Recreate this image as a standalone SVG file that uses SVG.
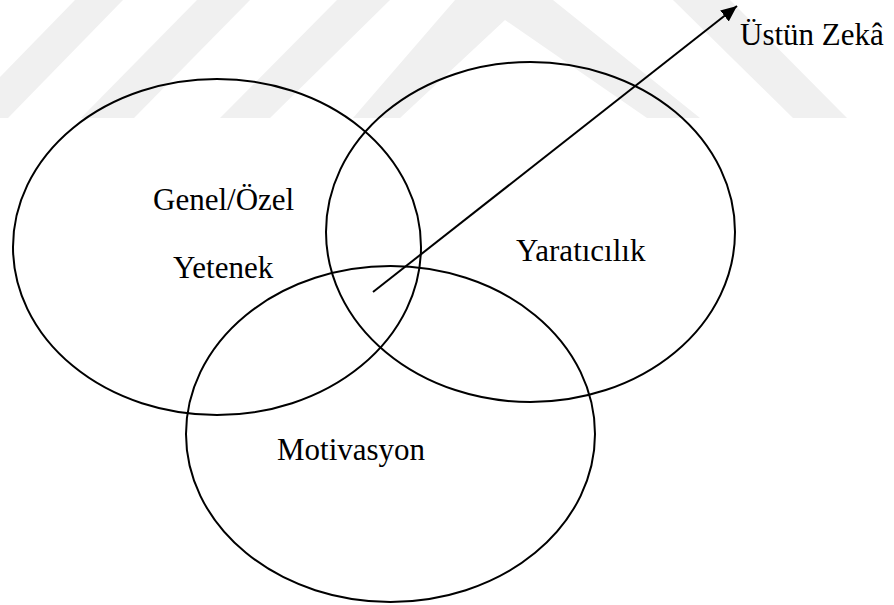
<svg xmlns="http://www.w3.org/2000/svg" width="894" height="605" viewBox="0 0 894 605">
<style>
.wm{fill:#f0f0f0;stroke:none}
.ell{fill:none;stroke:#000;stroke-width:2}
.lbl{font-family:"Liberation Serif","Times New Roman",serif;font-size:31px;fill:#000}
.conn{stroke:#000;stroke-width:2;fill:none}
</style>
<defs>
<marker id="ah" markerUnits="userSpaceOnUse" markerWidth="18" markerHeight="16" refX="16" refY="7" orient="auto">
<path d="M0,0 L16,7 L0,14 Z" fill="#000"/>
</marker>
</defs>
<rect width="894" height="605" fill="#fff"/>
<g id="watermark">
<polygon class="wm" points="75,0 123,0 8,118 -40,118"/>
<polygon class="wm" points="197,0 250,0 134,118 81,118"/>
<polygon class="wm" points="337,0 390,0 270,118 220,118"/>
<polygon class="wm" points="455,0 553,0 700,118 647,118 505,20 400,118 353,118"/>
<polygon class="wm" points="673,0 730,0 847,118 793,118"/>
</g>
<g id="node-genel">
<ellipse class="ell" cx="217" cy="247" rx="204" ry="168"/>
<text class="lbl" font-family="Liberation Serif, serif" x="153" y="210">Genel/Özel</text>
<text class="lbl" font-family="Liberation Serif, serif" x="173" y="278">Yetenek</text>
</g>
<g id="node-yaraticilik">
<ellipse class="ell" cx="530.5" cy="232" rx="204.5" ry="170"/>
<text class="lbl" font-family="Liberation Serif, serif" x="516" y="261">Yaratıcılık</text>
</g>
<g id="node-motivasyon">
<ellipse class="ell" cx="390.5" cy="434" rx="204.5" ry="168"/>
<text class="lbl" font-family="Liberation Serif, serif" x="277" y="460">Motivasyon</text>
</g>
<g id="connectors">
<line class="conn" x1="373" y1="292" x2="737" y2="6" marker-end="url(#ah)"/>
</g>
<g id="node-ustun">
<text class="lbl" font-family="Liberation Serif, serif" x="740" y="45">Üstün Zekâ</text>
</g>
</svg>
